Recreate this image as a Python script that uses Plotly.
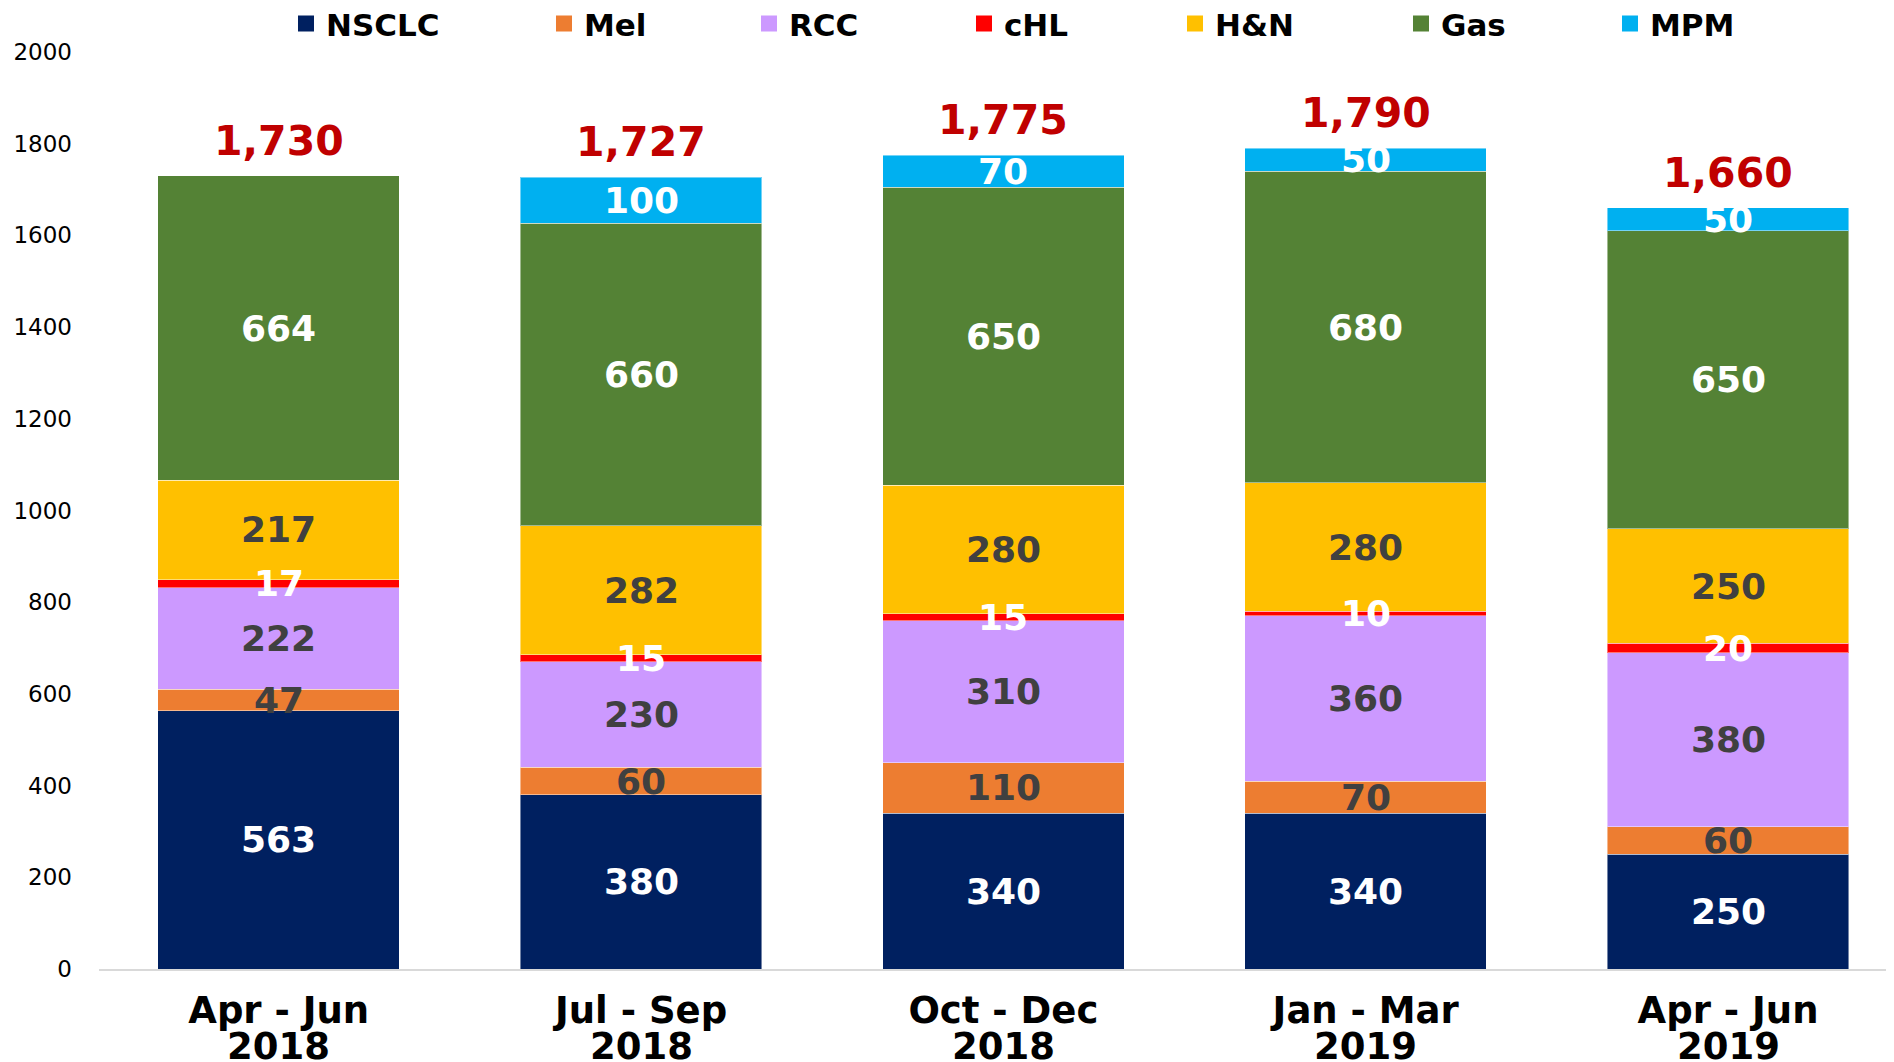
import plotly.graph_objects as go

periods = ["Apr - Jun", "Jul - Sep", "Oct - Dec", "Jan - Mar", "Apr - Jun"]
years = ["2018", "2018", "2018", "2019", "2019"]
categories = [f"{p} {y}" for p, y in zip(periods, years)]

series_names = ["NSCLC", "Mel", "RCC", "cHL", "H&N", "Gas", "MPM"]
nsclc = [563, 380, 340, 340, 250]
mel = [47, 60, 110, 70, 60]
rcc = [222, 230, 310, 360, 380]
chl = [17, 15, 15, 10, 20]
hn = [217, 282, 280, 280, 250]
gas = [664, 660, 650, 680, 650]
mpm = [0, 100, 70, 50, 50]
totals = [1730, 1727, 1775, 1790, 1660]

series_values = [nsclc, mel, rcc, chl, hn, gas, mpm]
colors = ["#002060", "#ED7D31", "#CC99FF", "#FF0000", "#FFC000", "#548235", "#00B0F0"]
label_colors = ["#FFFFFF", "#404040", "#404040", "#FFFFFF", "#404040", "#FFFFFF", "#FFFFFF"]
legend_widths = [213, 160, 170, 166, 181, 164, 100]

FONT = "DejaVu Sans"

fig = go.Figure()
annotations = []
base = [0] * len(categories)
for name, vals, col, lcol in zip(series_names, series_values, colors, label_colors):
    fig.add_trace(go.Bar(
        x=categories, y=vals, name=name, marker_color=col,
        marker_line=dict(width=1, color="rgba(255,255,255,0.45)"),
        showlegend=False, hoverinfo="skip",
    ))
    for i, v in enumerate(vals):
        if v > 0:
            annotations.append(dict(
                x=categories[i], y=base[i] + v / 2, xref="x", yref="y",
                text=f"<b>{v}</b>", showarrow=False,
                font=dict(family=FONT, size=36, color=lcol),
                xanchor="center", yanchor="middle",
            ))
    base = [b + v for b, v in zip(base, vals)]

# legend entries
for name, col, lw in zip(series_names, colors, legend_widths):
    fig.add_trace(go.Scatter(
        x=[None], y=[None], mode="markers", name=name,
        marker=dict(symbol="square", size=16, color=col),
        legendwidth=lw, showlegend=True,
    ))

for i, t in enumerate(totals):
    annotations.append(dict(
        x=categories[i], y=t, xref="x", yref="y",
        text=f"<b>{t:,}</b>", showarrow=False,
        font=dict(family=FONT, size=41, color="#C00000"),
        xanchor="center", yanchor="middle", yshift=35,
    ))

for i, yr in enumerate(years):
    annotations.append(dict(
        x=categories[i], y=-0.085, xref="x", yref="paper",
        text=f"<b>{yr}</b>", showarrow=False,
        font=dict(family=FONT, size=37, color="#000000"),
        xanchor="center", yanchor="middle",
    ))

fig.update_layout(
    barmode="stack",
    bargap=0.3334,
    width=1886, height=1054,
    margin=dict(l=91, r=0, t=44, b=93, autoexpand=False),
    paper_bgcolor="white", plot_bgcolor="white",
    font=dict(family=FONT, color="#000000"),
    annotations=annotations,
    legend=dict(
        orientation="h", xref="container", yref="container",
        x=0.1474, y=0.985, xanchor="left", yanchor="middle",
        traceorder="normal",
        font=dict(family=FONT, size=31, color="#000000", weight="bold"),
        bgcolor="rgba(0,0,0,0)",
    ),
    xaxis=dict(
        tickmode="array", tickvals=categories,
        ticktext=[f"<b>{p}</b>" for p in periods],
        tickfont=dict(family=FONT, size=37, color="#000000"),
        showline=True, linecolor="#D9D9D9", linewidth=2,
        showgrid=False, ticks="", ticklabelstandoff=8,
        range=[-0.496, 4.458], automargin=False,
    ),
    yaxis=dict(
        range=[0, 2000], dtick=200, showgrid=False, zeroline=False,
        showline=False, ticks="", automargin=False,
        tickfont=dict(family=FONT, size=23, color="#000000"),
        ticklabelstandoff=26,
    ),
)

fig.write_html("out.html")
